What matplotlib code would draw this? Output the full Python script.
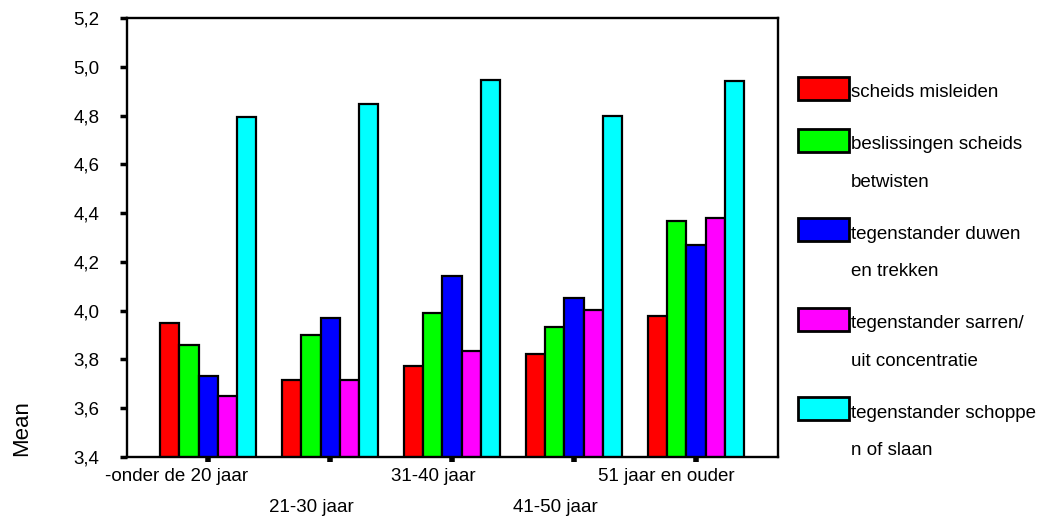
import numpy as np
import matplotlib
matplotlib.use('Agg')
import matplotlib.pyplot as plt
from matplotlib.patches import Rectangle
from matplotlib.transforms import ScaledTranslation

plt.rcParams['font.family'] = ['Liberation Sans', 'DejaVu Sans']

groups = ['-onder de 20 jaar', '21-30 jaar', '31-40 jaar', '41-50 jaar', '51 jaar en ouder']
series = ['scheids misleiden', 'beslissingen scheids\nbetwisten',
          'tegenstander duwen\nen trekken', 'tegenstander sarren/\nuit concentratie',
          'tegenstander schoppe\nn of slaan']
colors = ['#FF0000', '#00FF00', '#0000FF', '#FF00FF', '#00FFFF']

scheids_misleiden = [3.947, 3.714, 3.772, 3.821, 3.977]
beslissingen = [3.858, 3.899, 3.988, 3.933, 4.366]
duwen_trekken = [3.731, 3.969, 4.142, 4.051, 4.268]
sarren = [3.650, 3.714, 3.835, 4.001, 4.381]
schoppen_slaan = [4.794, 4.849, 4.947, 4.800, 4.942]
values = [scheids_misleiden, beslissingen, duwen_trekken, sarren, schoppen_slaan]

yticks = [3.4, 3.6, 3.8, 4.0, 4.2, 4.4, 4.6, 4.8, 5.0, 5.2]

W, H = 1040, 519
FS = 13.5
fig = plt.figure(figsize=(W / 100, H / 100), dpi=100)
ax = fig.add_axes([127 / W, 1 - 456.7 / H, (778 - 127) / W, (456.7 - 18.3) / H])

x = np.arange(len(groups))
bw = 0.158
for i, (vals, c) in enumerate(zip(values, colors)):
    ax.bar(x + (i - 2) * bw, vals, width=bw, color=c, edgecolor='black', linewidth=1.6)

ax.set_xlim(-0.666, 4.672)
ax.set_ylim(3.4, 5.2)
ax.set_yticks(yticks)
ax.set_yticklabels([f'{v:.1f}'.replace('.', ',') for v in yticks], fontsize=FS)
ax.set_xticks(x)
ax.set_xticklabels([])
ax.tick_params(axis='y', direction='out', length=5, width=2.5, pad=15)
ax.tick_params(axis='x', direction='out', length=3.5, width=4)
for s in ax.spines.values():
    s.set_linewidth(1.7)

# staggered category labels under the axis
texts = []
for i, g in enumerate(groups):
    dy = 24.3 if i % 2 == 0 else 55.3
    t = ax.text(i, 0, g, fontsize=FS, ha='center', va='baseline',
                transform=ax.get_xaxis_transform() +
                ScaledTranslation(0, -dy / 100, fig.dpi_scale_trans))
    texts.append(t)
fig.canvas.draw()
r = fig.canvas.get_renderer()
for t in texts:
    w = t.get_window_extent(r).width
    t.set_transform(t.get_transform() + ScaledTranslation(-0.22 * w / 100, 0, fig.dpi_scale_trans))

fig.text(22 / W, 1 - 428 / H, 'Mean', rotation=90, ha='center', va='center', fontsize=16)

# legend drawn by hand: patch next to first line, wrapped labels
base = 97.3
for lab, c in zip(series, colors):
    fig.patches.append(Rectangle((798 / W, 1 - 100 / H - (base - 97.3) / H), 51 / W, 23 / H,
                                 facecolor=c, edgecolor='black', linewidth=2,
                                 transform=fig.transFigure, figure=fig))
    lines = lab.split('\n')
    for k, line in enumerate(lines):
        fig.text(851 / W, 1 - (base + 37.4 * k) / H, line, fontsize=FS, va='baseline')
    base += 52 + 37.4 * (len(lines) - 1)

fig.savefig('out.png', dpi=100)
